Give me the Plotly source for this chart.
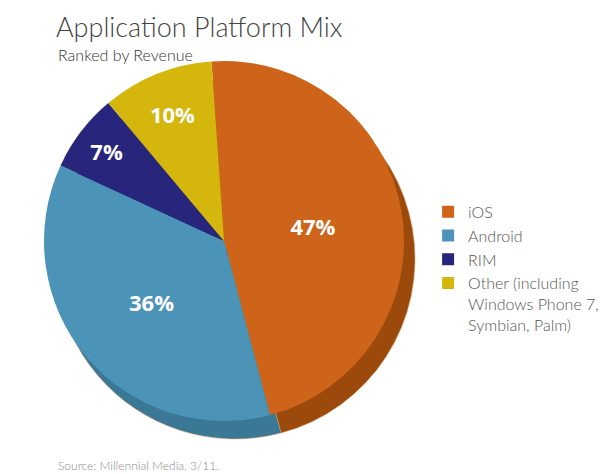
import plotly.graph_objects as go

# data
platforms = ["iOS", "Android", "RIM", "Other (including<br>Windows Phone 7,<br>Symbian, Palm)"]
share = [47, 36, 7, 10]

top_colors = ["#cd6419", "#4b94b8", "#28257d", "#d4b60c"]
side_colors = ["#9c4a0c", "#3a7896", "#1c1a5c", "#a08a08"]

W, H = 616, 474
cx, cy, r = 216, 233, 180
dx, dy = 11, 18


def dom(x0, y0):
    return dict(x=[(x0 - r) / W, (x0 + r) / W],
                y=[(H - (y0 + r)) / H, (H - (y0 - r)) / H])


fig = go.Figure()

# the "3D" side, a darker pie behind the top face
fig.add_trace(go.Pie(
    labels=platforms, values=share, sort=False, direction="clockwise", rotation=-4,
    marker=dict(colors=side_colors, line=dict(color="#d89a6a", width=0.5)),
    textinfo="none", hoverinfo="skip", showlegend=False, domain=dom(cx + dx, cy + dy),
))

fig.add_trace(go.Pie(
    labels=platforms, values=share, sort=False, direction="clockwise", rotation=-4,
    marker=dict(colors=top_colors, line=dict(width=0)),
    texttemplate="%{value}%", textposition="inside", insidetextorientation="horizontal",
    textfont=dict(family="Open Sans", size=22, color="white", weight=700),
    domain=dom(cx, cy),
))

fig.update_layout(
    width=W, height=H,
    margin=dict(l=0, r=0, t=0, b=0),
    paper_bgcolor="white", plot_bgcolor="white",
    showlegend=True,
    legend=dict(x=0.682, y=0.606, xanchor="left", yanchor="top", valign="top",
                font=dict(family="Lato", size=16, color="#555555", weight=300),
                tracegroupgap=0, itemclick=False),
    annotations=[
        dict(text="Application Platform Mix", x=46 / W, y=1, xref="paper", yref="paper",
             xanchor="left", yanchor="top", showarrow=False,
             font=dict(family="Lato", size=27, color="#444444", weight=300)),
        dict(text="Ranked by Revenue", x=48 / W, y=1 - 35 / H, xref="paper", yref="paper",
             xanchor="left", yanchor="top", showarrow=False,
             font=dict(family="Lato", size=16, color="#333333", weight=300)),
        dict(text="Source: Millennial Media, 3/11.", x=48 / W, y=1 - 448 / H, xref="paper", yref="paper",
             xanchor="left", yanchor="top", showarrow=False,
             font=dict(family="Lato", size=12, color="#8a8a8a", weight=300)),
    ],
)

fig.write_html("out.html")
